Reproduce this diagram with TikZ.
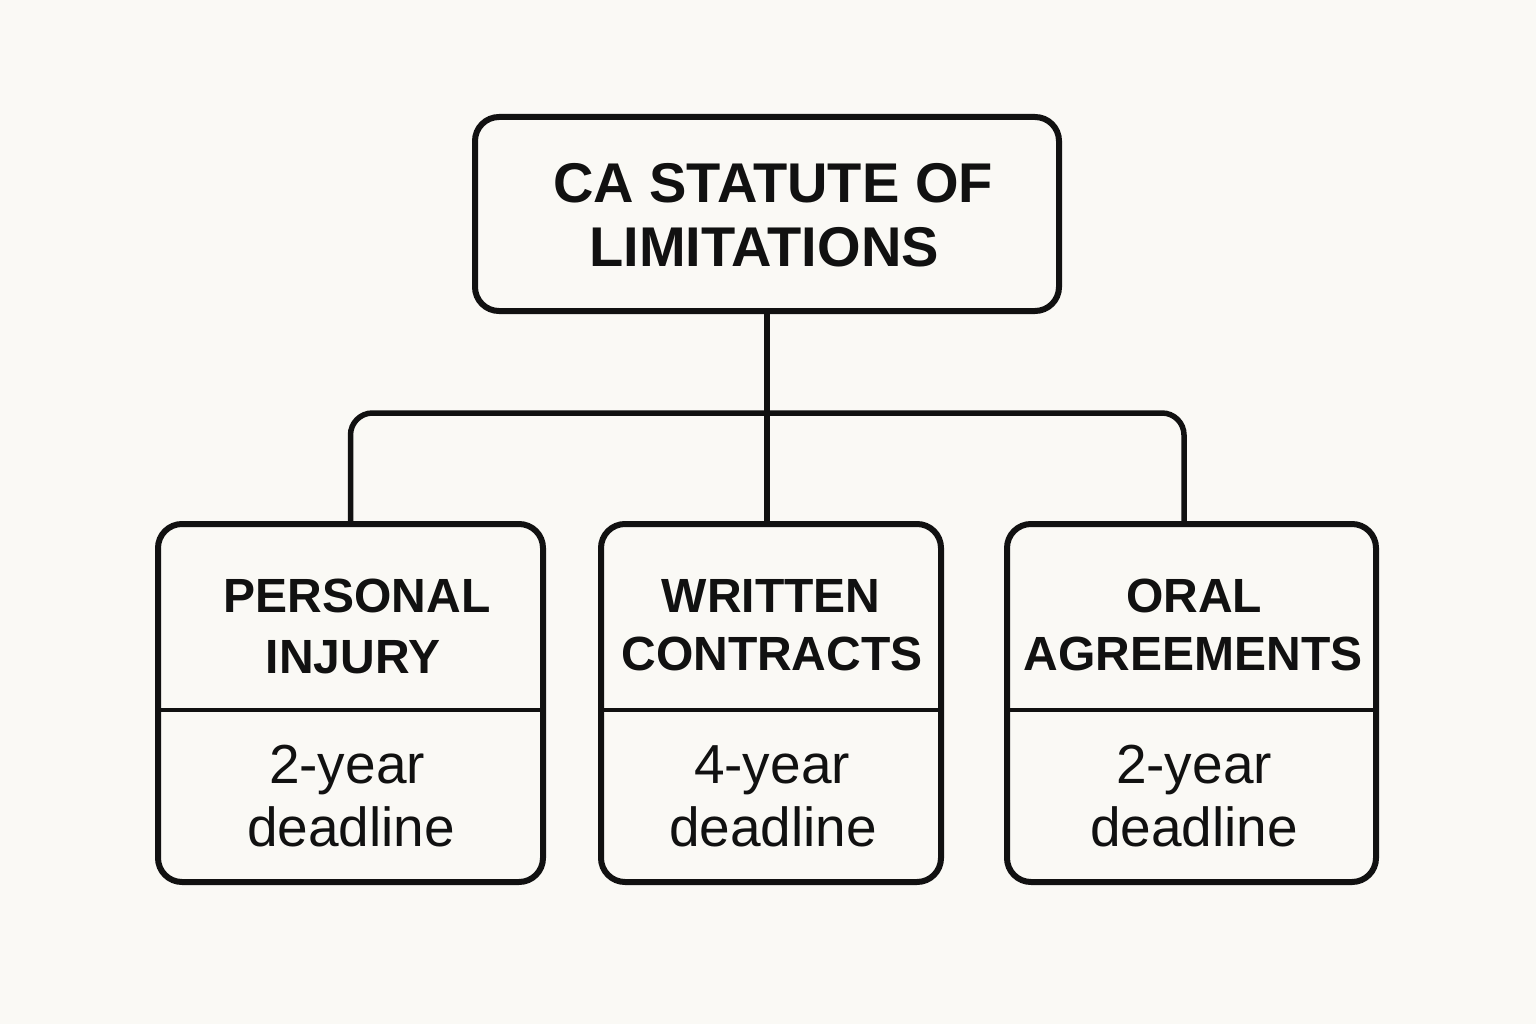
\documentclass[tikz,border=0pt]{standalone}
\usepackage{fontspec}
\setmainfont{Liberation Sans}
\usetikzlibrary{calc}
\definecolor{bg}{RGB}{250,249,245}
\definecolor{ink}{RGB}{17,17,17}
\begin{document}
\begin{tikzpicture}[x=1pt,y=-1pt,
  box/.style={rectangle, draw=ink, rounded corners=24pt, line width=6pt, fill=bg, outer sep=0pt, inner sep=0pt},
  conn/.style={draw=ink, line width=5.5pt, rounded corners=22pt},
  divider/.style={draw=ink, line width=3.5pt},
  ttl/.style={font=\fontsize{56}{64}\selectfont\bfseries, text=ink, anchor=base, inner sep=0pt},
  hdr/.style={font=\fontsize{48}{60}\selectfont\bfseries, text=ink, anchor=base, inner sep=0pt},
  body/.style={font=\fontsize{55}{64}\selectfont, text=ink, anchor=base, inner sep=0pt}]
\fill[bg] (0,0) rectangle (1536,1024);
\useasboundingbox (0,0) rectangle (1536,1024);
% boxes
\node[box, minimum width=584pt, minimum height=194pt] (top) at (767,214) {};
\node[box, minimum width=385pt, minimum height=358pt] (pi) at (350.5,703) {};
\node[box, minimum width=340pt, minimum height=358pt] (wc) at (771,703) {};
\node[box, minimum width=369pt, minimum height=358pt] (oa) at (1191.5,703) {};
% connectors
\coordinate (hub) at (767,413);
\draw[conn] (top.south) -- (top.south |- wc.north);
\draw[conn] (pi.north) |- (hub);
\draw[conn] (hub) -| ($(oa.north)+(-7.5,0)$);
% dividers
\draw[divider] ($(pi.west)+(0,7)$) -- ($(pi.east)+(0,7)$);
\draw[divider] ($(wc.west)+(0,7)$) -- ($(wc.east)+(0,7)$);
\draw[divider] ($(oa.west)+(0,7)$) -- ($(oa.east)+(0,7)$);
% title
\node[ttl] (t1) at (773,203) {CA STATUTE OF};
\node[ttl] (t2) at (764,267) {LIMITATIONS};
% left
\node[hdr] (pi1) at (357,612) {PERSONAL};
\node[hdr] (pi2) at (353,673) {INJURY};
\node[body] (pi3) at (347,783) {2-year};
\node[body] (pi4) at (351,846) {deadline};
% middle
\node[hdr] (wc1) at (771,612) {WRITTEN};
\node[hdr] (wc2) at (772,670) {CONTRACTS};
\node[body] (wc3) at (772,783) {4-year};
\node[body] (wc4) at (773,846) {deadline};
% right
\node[hdr] (oa1) at (1194,612) {ORAL};
\node[hdr] (oa2) at (1193,670) {AGREEMENTS};
\node[body] (oa3) at (1194,783) {2-year};
\node[body] (oa4) at (1194,846) {deadline};
\end{tikzpicture}
\end{document}
